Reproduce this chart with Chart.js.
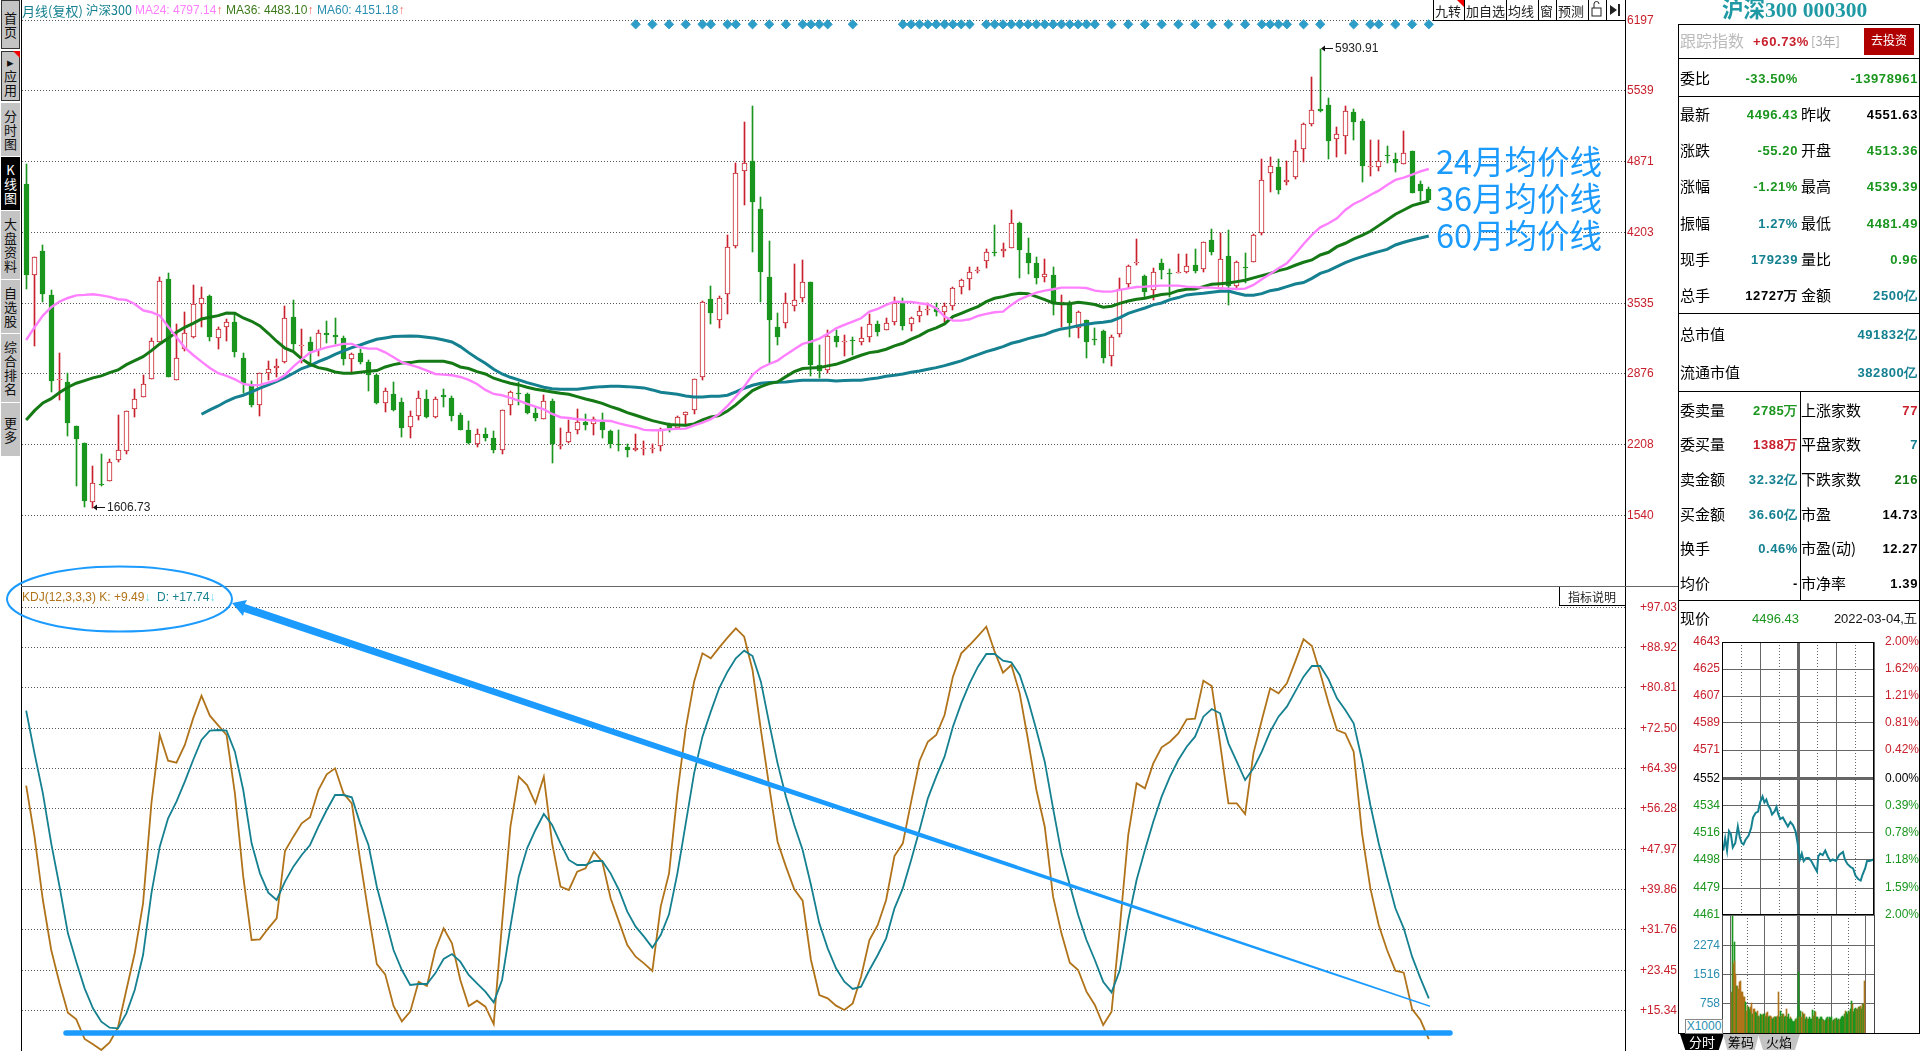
<!DOCTYPE html>
<html lang="zh">
<head>
<meta charset="utf-8">
<title>沪深300 月线</title>
<script src="https://cdn.jsdelivr.net/npm/chart.js@4/dist/chart.umd.js"></script>
<style>
html, body { margin: 0; padding: 0; background: #fff; width: 1920px; height: 1051px; overflow: hidden; }
canvas { position: absolute; }
.t { position: absolute; white-space: nowrap; line-height: 1; font-family: "Noto Sans CJK SC", sans-serif; }
.r { position: absolute; }
.nav { position: absolute; left: 1px; width: 19px; background: #c4c4c4; color: #111; text-align: center; font: 13px/14px "Noto Sans CJK SC", sans-serif; box-sizing: border-box; display: flex; flex-direction: column; align-items: center; justify-content: center; }
.tab { position: absolute; top: 1034px; height: 16px; font: 13px/16px "Noto Sans CJK SC", sans-serif; text-align: center; }
svg { position: absolute; left: 0; top: 0; }
</style>
</head>
<body>
<canvas id="kline" width="1658" height="586" style="left:22px;top:0"></canvas>
<canvas id="kdj" width="1658" height="465" style="left:22px;top:586px"></canvas>
<canvas id="price" width="241" height="297" style="left:1678px;top:630px"></canvas>
<canvas id="volume" width="241" height="118" style="left:1678px;top:915px"></canvas>
<div id="ui"></div>
<svg width="1920" height="1051">
	<ellipse cx="119.5" cy="599" rx="112.5" ry="32.5" fill="none" stroke="#1c9bff" stroke-width="2"/>
	<polygon points="232,603 247,600 245,604 1430,1005.4 1430,1007 244,612 243,616" fill="#1c9bff"/>
	<line x1="66" y1="1033" x2="1450" y2="1033" stroke="#1c9bff" stroke-width="5.5" stroke-linecap="round"/>
	<rect x="1592" y="8" width="9" height="8" fill="none" stroke="#222"/>
	<path d="M1594 8 V4 a2.5 2.5 0 0 1 5 0" fill="none" stroke="#222"/>
	<polygon points="1610,5 1617,10 1610,15" fill="#222"/>
	<rect x="1618" y="4" width="2" height="12" fill="#222"/>
</svg>
<script>
'use strict'

const opens = [4659,3800,4029,3615,2815,2793,2382,2222,1670,1835,1868,2065,2144,2539,2652,2821,3169,3765,2818,3103,3220,3527,3605,3213,3310,3361,3022,2759,2577,2881,2925,2987,3408,3135,3172,3097,3254,3235,3210,3016,3069,2984,2862,2602,2683,2605,2376,2479,2636,2470,2674,2646,2486,2345,2216,2307,2266,2153,2577,2690,2683,2501,2451,2614,2198,2229,2342,2417,2398,2423,2332,2207,2182,2160,2169,2169,2191,2401,2360,2483,2536,2846,3574,3376,3621,4079,4778,4872,4421,3781,3310,3348,3508,3583,3734,2953,2906,3226,3176,3188,3176,3216,3339,3282,3357,3542,3339,3414,3470,3489,3452,3508,3687,3762,3844,3931,4016,4025,4060,4289,4007,3913,3787,3803,3536,3527,3301,3376,3198,3273,3038,3245,3715,3916,3790,3659,3913,3825,3825,3834,3894,3856,4129,3668,3978,3702,3875,3922,4195,4759,4816,4681,4722,4985,5227,5365,5399,5079,5114,5333,5252,4818,4822,4932,4891,4847,4969,4656,4612]
const closes = [3803,3969,3627,2809,2818,2414,2260,1680,1843,1828,2040,2153,2520,2633,2774,3179,3743,2846,3019,3260,3530,3583,3220,3292,3357,3082,2784,2580,2878,2915,2943,3395,3157,3141,3091,3254,3238,3216,3016,3056,2984,2865,2599,2708,2533,2366,2473,2643,2467,2633,2652,2476,2348,2222,2304,2272,2160,2530,2699,2684,2508,2461,2614,2216,2204,2323,2417,2395,2451,2348,2216,2201,2160,2172,2175,2175,2357,2360,2464,2517,2821,3546,3448,3583,4063,4759,4853,4493,3834,3383,3223,3542,3571,3740,2959,2897,3226,3176,3182,3182,3213,3339,3270,3348,3542,3326,3395,3461,3476,3458,3508,3677,3753,3834,3850,4016,4010,4044,4289,4041,3919,3778,3809,3527,3542,3354,3452,3176,3192,3025,3216,3674,3884,3922,3646,3834,3853,3815,3831,3891,3844,4110,4022,3950,3699,3922,3869,4176,4700,4825,4606,4700,4972,5220,5358,5350,5067,5132,5346,5245,4831,4825,4878,4926,4853,4947,4577,4593,4508]
const highs = [4847,3975,4085,3662,3066,2878,2385,2225,2006,2119,2072,2486,2523,2727,2859,3207,3781,3822,3342,3455,3709,3687,3615,3310,3386,3442,3066,2802,2884,2994,3009,3511,3568,3295,3216,3282,3373,3398,3232,3066,3107,3003,2871,2740,2796,2646,2523,2715,2721,2655,2730,2664,2501,2429,2354,2360,2335,2530,2708,2793,2690,2558,2671,2636,2360,2436,2539,2492,2470,2501,2342,2342,2210,2307,2244,2210,2363,2407,2473,2517,2821,3555,3699,3605,4176,4853,5242,5390,4533,4120,3442,3630,3903,3941,3734,3144,3282,3285,3235,3223,3314,3436,3367,3398,3593,3583,3405,3514,3536,3536,3536,3687,3762,3878,3878,4044,4273,4101,4414,4301,4151,3972,3953,3878,3615,3558,3461,3376,3301,3285,3238,3771,3894,4142,3800,3866,3953,3856,4000,4000,4047,4110,4236,4198,4226,3931,4010,4185,4891,4913,4891,4872,5073,5230,5662,5930.91,5465,5195,5390,5365,5270,5073,5073,5016,4947,5158,4969,4684,4634]
const lows = [3674,3138,3552,2705,2630,2291,1821,1623,1606.73,1821,1862,2047,2122,2470,2652,2821,3169,2846,2812,3088,3213,3317,3185,3110,3185,3034,2690,2564,2479,2815,2846,2978,3097,2972,2972,3044,3166,3150,2956,2887,2965,2711,2589,2514,2523,2279,2269,2442,2457,2461,2561,2429,2345,2213,2188,2244,2131,2122,2489,2583,2498,2432,2445,2037,2169,2219,2310,2348,2301,2272,2178,2150,2094,2150,2112,2131,2150,2323,2360,2382,2498,2818,3345,3307,3439,4060,4465,4022,3549,2972,3147,3307,3467,3552,2853,2834,2878,3129,3044,3053,3147,3176,3232,3282,3332,3285,3279,3364,3427,3420,3364,3473,3627,3665,3825,3869,3982,3972,4060,3775,3812,3718,3737,3427,3314,3223,3213,3025,3147,2978,2950,3223,3680,3894,3599,3571,3762,3593,3818,3818,3822,3828,3991,3668,3524,3684,3724,3922,4179,4587,4568,4650,4709,4869,5205,5339,4894,4913,4944,5073,4681,4737,4781,4853,4775,4847,4577,4499,4493]

const ma24 = [3191,3310,3420,3499,3552,3586,3611,3615,3621,3611,3596,3574,3568,3530,3470,3452,3420,3317,3216,3119,3050,2987,2928,2878,2853,2821,2777,2765,2768,2790,2812,2862,2940,3009,3072,3097,3122,3138,3154,3154,3122,3110,3110,3075,3028,2981,2956,2934,2903,2871,2865,2859,2843,2815,2777,2721,2683,2671,2646,2621,2589,2564,2539,2495,2464,2457,2445,2439,2432,2432,2429,2407,2388,2370,2345,2341,2341,2351,2354,2357,2388,2413,2445,2495,2570,2658,2752,2862,2928,2965,2997,3053,3104,3154,3176,3204,3248,3301,3332,3364,3395,3458,3483,3521,3552,3549,3549,3536,3527,3489,3411,3373,3373,3386,3417,3436,3452,3458,3521,3574,3605,3637,3655,3668,3684,3684,3684,3680,3655,3646,3646,3662,3677,3690,3693,3699,3702,3702,3702,3693,3690,3684,3684,3677,3674,3671,3674,3709,3762,3812,3866,3913,4000,4094,4179,4251,4289,4336,4414,4471,4508,4555,4596,4650,4697,4719,4747,4778,4800]
const ma36 = [2439,2526,2599,2639,2696,2746,2784,2809,2834,2853,2884,2909,2959,2997,3034,3091,3154,3207,3263,3310,3348,3389,3405,3420,3445,3442,3398,3367,3323,3254,3179,3113,3082,3013,2962,2931,2915,2890,2878,2878,2887,2896,2903,2937,2959,2975,2978,2991,2991,2991,2991,2972,2937,2922,2893,2871,2831,2806,2784,2768,2746,2727,2715,2702,2690,2680,2658,2636,2617,2595,2564,2539,2508,2483,2457,2432,2413,2395,2392,2388,2401,2439,2467,2479,2523,2580,2649,2715,2752,2780,2796,2846,2893,2922,2928,2931,2947,2962,2988,3019,3047,3072,3082,3104,3135,3160,3198,3232,3276,3304,3342,3411,3442,3474,3505,3552,3583,3599,3618,3630,3627,3599,3571,3539,3533,3533,3546,3536,3524,3499,3508,3536,3558,3574,3583,3602,3618,3627,3655,3668,3671,3693,3715,3721,3727,3740,3753,3775,3797,3818,3844,3862,3894,3922,3944,3991,4016,4069,4101,4142,4176,4214,4267,4320,4374,4414,4455,4477,4499]
const ma60 = [null,null,null,null,null,null,null,null,null,null,null,null,null,null,null,null,null,null,null,null,null,2492,2533,2570,2614,2649,2671,2702,2737,2768,2802,2837,2878,2922,2950,2987,3019,3056,3088,3119,3144,3172,3198,3210,3223,3226,3229,3226,3216,3207,3191,3172,3129,3072,3019,2972,2915,2871,2840,2815,2790,2768,2746,2733,2727,2727,2727,2737,2746,2752,2755,2755,2752,2746,2740,2721,2699,2690,2680,2664,2655,2655,2661,2661,2671,2702,2737,2765,2784,2790,2793,2796,2806,2812,2812,2812,2812,2806,2809,2812,2812,2824,2834,2849,2859,2871,2887,2900,2915,2931,2950,2972,2994,3025,3053,3082,3104,3129,3160,3179,3204,3223,3241,3273,3295,3307,3326,3339,3351,3358,3370,3401,3442,3467,3492,3521,3539,3571,3590,3615,3624,3630,3640,3649,3652,3630,3612,3612,3627,3655,3668,3693,3718,3731,3771,3818,3844,3881,3919,3950,3975,4000,4022,4044,4085,4110,4132,4151,4170]

const signalMonths = [74,76,78,80,82,83,85,86,88,90,92,94,95,96,97,100,106,107,108,109,110,111,112,113,114,116,117,118,119,120,121,122,123,124,125,126,127,128,129,131,133,135,137,139,141,143,145,147,149,150,151,152,154,156,160,162,163,165,167,169]
const signalLevel = 6161

const kValues = [60.88,50.54,37.70,27.56,20.81,14.86,13.51,9.52,8.44,7.29,8.85,11.89,19.45,26.89,37.02,57.29,71.15,65.94,65.54,69.12,74.52,79.12,75.06,73.11,71.15,59.32,42.43,29.59,29.72,31.96,33.98,47.63,50.54,53.24,54.46,60.00,63.17,64.39,59.32,57.29,45.81,35.00,24.72,22.63,16.21,13.10,15.06,21.14,20.27,27.56,31.96,28.91,21.48,16.21,17.29,16.08,12.56,32.97,52.56,62.70,61.01,57.29,62.70,49.19,40.40,39.73,43.44,44.12,47.50,45.47,38.04,33.31,28.58,26.21,24.86,23.31,36.35,43.10,59.32,72.50,81.96,87.70,86.69,88.85,90.88,92.77,91.08,84.32,72.16,60.67,49.52,44.46,39.86,37.56,25.54,18.44,17.77,16.28,15.40,16.75,22.16,29.59,32.63,37.70,46.62,49.19,57.63,65.88,69.79,71.15,75.20,82.97,87.70,89.39,91.21,93.11,88.04,83.78,85.34,79.59,70.13,60.00,52.56,38.37,30.94,25.00,23.51,19.12,16.41,12.36,15.06,32.29,50.87,61.35,60.33,65.40,68.65,69.79,71.48,74.32,74.46,82.16,81.08,69.46,57.29,57.29,55.13,67.43,74.19,80.61,79.59,81.62,86.01,90.54,89.19,83.65,77.56,72.16,71.48,67.77,51.21,40.06,32.63,27.56,23.37,22.97,15.60,13.37,9.49]
const dValues = [76.08,67.43,59.32,49.19,40.40,30.94,25.20,19.79,15.74,13.04,11.82,11.68,14.72,19.45,26.55,39.05,48.51,54.25,57.63,61.69,66.08,70.13,72.02,72.16,72.02,67.77,60.00,49.19,43.10,39.18,37.70,41.42,44.46,46.82,48.85,52.56,55.94,58.98,58.98,58.51,53.24,48.85,40.40,33.98,27.56,23.51,20.47,20.67,20.67,22.83,25.74,26.75,25.20,22.50,20.81,19.12,16.95,21.48,32.29,42.43,48.17,51.89,55.13,52.90,49.19,45.81,44.79,44.79,45.60,45.60,43.10,39.73,35.33,32.29,30.27,28.04,30.60,34.79,43.10,53.24,63.38,70.81,75.88,80.61,83.98,86.69,88.24,87.16,81.96,73.51,65.40,58.65,52.90,47.83,40.74,32.97,27.90,23.85,21.14,19.66,20.13,23.51,26.55,29.93,36.01,40.06,45.81,51.89,58.31,62.70,66.75,72.83,77.56,81.62,85.00,87.57,87.57,86.21,85.88,83.31,78.24,72.16,65.74,56.28,47.16,40.74,34.66,29.59,25.54,21.14,18.98,23.51,33.64,41.75,47.83,53.58,58.65,62.70,66.08,68.78,70.81,74.86,76.42,75.54,69.46,65.74,62.02,64.39,67.77,71.82,74.86,76.89,79.93,82.97,85.13,85.13,82.43,78.58,76.21,73.51,66.08,56.96,49.19,42.43,36.01,31.96,26.21,21.82,17.74]

const priceTicks = [6197,5539,4871,4203,3535,2876,2208,1540]
const kdjTicks = [97.03,88.92,80.81,72.50,64.39,56.28,47.97,39.86,31.76,23.45,15.34]

const intradayMinutes = [2,5,8,11,14,17,21,25,28,31,34,37,42,46,49,53,57,60,64,67,70,73,76,79,83,86,89,92,96,100,104,108,112,116,119,123,126,129,133,137,141,146,150,152,155,159,163,167,171,175,180,185,191,194,198,203,207,211,215,219,222,226,229,233,239]
const intradayPrices = [4504,4512,4504,4517,4515,4506,4509,4520,4513,4509,4508,4511,4514,4519,4526,4529,4530,4536,4540,4536,4538,4534,4532,4528,4530,4533,4528,4525,4526,4523,4520,4523,4521,4517,4510,4498,4502,4497,4499,4499,4497,4493,4490,4500,4502,4501,4504,4500,4497,4498,4497,4501,4503,4498,4495,4493,4492,4487,4485,4484,4488,4492,4497,4497,4498]
const intradayTicks = [4643,4625,4607,4589,4571,4552,4534,4516,4498,4479,4461]
const percentTicks = ['2.00%','1.62%','1.21%','0.81%','0.42%','0.00%','0.39%','0.78%','1.18%','1.59%','2.00%']

const volumeValues = [1060,3059,1799,2364,1868,1538,1234,1234,1147,1321,1364,1060,973,1060,930,930,799,582,713,669,626,669,539,773,495,626,626,539,513,565,408,452,408,495,469,478,495,495,452,513,408,539,408,452,452,408,365,391,408,408,408,426,452,1078,408,582,452,495,408,495,408,452,626,408,495,365,408,365,365,322,278,322,365,365,408,1582,713,408,582,408,539,495,495,365,408,365,365,365,408,365,365,600,452,582,365,539,408,408,365,365,426,408,365,339,339,322,339,391,408,365,408,391,365,408,322,339,365,365,391,339,365,322,339,365,408,452,408,495,582,452,539,495,582,539,626,843,756,539,626,582,652,626,626,669,669,713,626,669,756,756,1364]
const volumeSide = 'bgbgbbgbbb' + 'bbbbbbgbbg' + 'gbgbgbbggb' + 'ggbggbggbb' + 'gbggbbgggb' + 'ggbbggbggb' + 'ggbgggbggg' + 'gggbgggbgb' + 'bgbgggbggg' + 'ggbggbggbg' + 'gggbgbgggb' + 'ggggbggbgg' + 'ggbgggggbg' + 'gggbggbggg' + 'gbgbgbggbgb'
const volumeTicks = [758,1516,2274]

const months = []
for (let y = 2008, m = 3; months.length < 169; m++) {
	if (m > 12) { m = 1; y++ }
	months.push(y + '-' + String(m).padStart(2, '0'))
}
// the chart leaves free room right of the last month
const categories = months.concat(new Array(23).fill(''))

const RED = '#c8202c'
const GREEN = '#1a961e'
const TEAL = '#148090'
const BROWN = '#b0731a'
const AXIS_FONT = { family: '"Liberation Sans", Arial, sans-serif', size: 12 }

Chart.defaults.animation = false
Chart.defaults.responsive = false
Chart.defaults.events = []
Chart.defaults.layout.autoPadding = false
Chart.defaults.plugins.legend.display = false
Chart.defaults.plugins.tooltip.enabled = false

// keeps bars on whole pixels, the original has no antialiasing
const snapBars = {
	id: 'snapBars',
	afterDatasetsUpdate(chart) {
		chart.data.datasets.forEach((ds, i) => {
			const meta = chart.getDatasetMeta(i)
			if (meta.type !== 'bar') return
			meta.data.forEach((el) => {
				if (el.skip) return
				el.x = Math.floor(el.x) + 0.5
				el.y = Math.round(el.y)
				el.base = Math.round(el.base)
				if (el.y === el.base) el.y -= 1
			})
		})
	},
}

// arrow and text at the highest high and lowest low
const extremes = {
	id: 'extremes',
	afterDatasetsDraw(chart) {
		const ctx = chart.ctx
		const xs = chart.scales.x
		const ys = chart.scales.y
		const marks = [
			[highs.indexOf(Math.max(...highs)), Math.max(...highs)],
			[lows.indexOf(Math.min(...lows)), Math.min(...lows)],
		]
		ctx.save()
		ctx.font = '12px "Liberation Sans"'
		ctx.textBaseline = 'middle'
		marks.forEach(([i, value]) => {
			const x = Math.floor(xs.getPixelForValue(i)) + 1
			const y = Math.round(ys.getPixelForValue(value)) - 0.5
			ctx.strokeStyle = ctx.fillStyle = '#111'
			ctx.beginPath()
			ctx.moveTo(x + 1, y)
			ctx.lineTo(x + 12, y)
			ctx.stroke()
			ctx.beginPath()
			ctx.moveTo(x, y)
			ctx.lineTo(x + 4, y - 3)
			ctx.lineTo(x + 4, y + 3)
			ctx.fill()
			ctx.fillStyle = '#222'
			ctx.fillText(value.toFixed(2), x + 14, y)
		})
		ctx.restore()
	},
}

// fixed axis width and no room reserved for half a label above and below
const fixedWidth = (w) => (scale) => {
	scale.width = w
	scale.paddingTop = 0
	scale.paddingBottom = 0
}
const fixedTicks = (values) => (scale) => { scale.ticks = values.map((v) => ({ value: v })) }
const candleColor = (ctx) => (closes[ctx.dataIndex] >= opens[ctx.dataIndex] ? RED : GREEN)
const bodyFill = (ctx) => (closes[ctx.dataIndex] >= opens[ctx.dataIndex] ? '#fff' : GREEN)
const maLine = (label, data, color, width, order) => ({
	type: 'line', label, data, borderColor: color, borderWidth: width,
	pointRadius: 0, tension: 0, order, spanGaps: false,
})
const dottedGrid = {
	grid: { color: '#555', drawTicks: false, lineWidth: 1 },
	border: { display: false, dash: [1, 2] },
}
const tickValue = (ctx) => (ctx.tick ? ctx.tick.value : null)
const sideColor = (ctx) => {
	const v = tickValue(ctx)
	return v > 4552 ? RED : v === 4552 ? '#000' : GREEN
}

new Chart(document.getElementById('kline'), {
	type: 'bar',
	data: {
		labels: categories,
		datasets: [
			maLine('MA60', ma60, TEAL, 3, 3),
			maLine('MA36', ma36, '#157a15', 3, 2),
			maLine('MA24', ma24, '#ff80ff', 2.4, 1),
			{
				type: 'line', label: 'signal', showLine: false, order: 1,
				data: months.map((_, i) => (signalMonths.includes(i + 1) ? signalLevel : null)),
				pointStyle: 'rectRot', pointRadius: 4.6, backgroundColor: '#2e9ec8', borderColor: '#2e9ec8',
			},
			{
				label: 'body', data: months.map((_, i) => [opens[i], closes[i]]), order: 5, grouped: false,
				barThickness: 5, borderWidth: 1, borderSkipped: false,
				borderColor: candleColor, backgroundColor: bodyFill,
			},
			{
				label: 'wick', data: months.map((_, i) => [lows[i], highs[i]]), order: 6, grouped: false,
				barThickness: 1, backgroundColor: candleColor,
			},
		],
	},
	options: {
		layout: { padding: 0 },
		scales: {
			x: { display: false, offset: true },
			y: {
				position: 'right', min: 876, max: 6390,
				afterFit: fixedWidth(55), afterBuildTicks: fixedTicks(priceTicks),
				...dottedGrid,
				ticks: { font: AXIS_FONT, color: RED, padding: 2, autoSkip: false, callback: (v) => String(v) },
			},
		},
	},
	plugins: [snapBars, extremes],
})

new Chart(document.getElementById('kdj'), {
	type: 'line',
	data: {
		labels: categories,
		datasets: [
			maLine('D', dValues, TEAL, 1.8, 1),
			maLine('K', kValues, BROWN, 1.8, 2),
		],
	},
	options: {
		scales: {
			x: { display: false, offset: true },
			y: {
				position: 'right', min: 7.09, max: 101.35,
				afterFit: fixedWidth(55), afterBuildTicks: fixedTicks(kdjTicks),
				...dottedGrid,
				ticks: {
					font: AXIS_FONT, color: RED, padding: 15, autoSkip: false,
					callback: (v) => '+' + v.toFixed(2),
				},
			},
		},
	},
})

const minuteAxis = () => ({
	type: 'linear', min: 0, max: 240,
	ticks: { display: false, stepSize: 30, autoSkip: false },
	grid: {
		drawTicks: false, color: '#666', offset: false,
		lineWidth: (ctx) => (tickValue(ctx) === 120 ? 3 : 1),
	},
	border: { display: false, dash: (ctx) => (tickValue(ctx) % 60 === 30 ? [1, 2] : []) },
})

new Chart(document.getElementById('price'), {
	type: 'line',
	data: {
		datasets: [{
			label: '分时',
			data: intradayMinutes.map((m, i) => ({ x: m, y: intradayPrices[i] })),
			borderColor: TEAL, borderWidth: 2, pointRadius: 0, tension: 0,
		}],
	},
	options: {
		layout: { padding: { top: 12, bottom: 12 } },
		scales: {
			x: minuteAxis(),
			y: {
				position: 'left', min: 4461, max: 4643,
				afterFit: fixedWidth(44), afterBuildTicks: fixedTicks(intradayTicks),
				grid: {
					drawTicks: false, color: '#666',
					lineWidth: (ctx) => (tickValue(ctx) === 4552 ? 3 : 1),
				},
				border: { display: false },
				ticks: { font: AXIS_FONT, padding: 2, autoSkip: false, color: sideColor, callback: (v) => String(v) },
			},
			y2: {
				position: 'right', min: 4461, max: 4643,
				afterFit: fixedWidth(45), afterBuildTicks: fixedTicks(intradayTicks),
				grid: { display: false },
				border: { display: false },
				ticks: {
					font: AXIS_FONT, padding: 3, autoSkip: false, color: sideColor,
					callback: (v, i) => percentTicks[i],
				},
			},
		},
	},
})

new Chart(document.getElementById('volume'), {
	type: 'bar',
	data: {
		datasets: [{
			label: '成交量',
			data: volumeValues.map((v, i) => ({ x: (i + 1) * 240 / 152, y: v })),
			barThickness: 1, grouped: false,
			backgroundColor: (ctx) => (volumeSide[ctx.dataIndex] === 'g' ? GREEN : BROWN),
		}],
	},
	options: {
		layout: { padding: { right: 45 } },
		scales: {
			x: minuteAxis(),
			y: {
				position: 'left', min: 0, max: 3074,
				afterFit: fixedWidth(44), afterBuildTicks: fixedTicks(volumeTicks),
				grid: { drawTicks: false, color: '#666' },
				border: { display: false },
				ticks: { font: AXIS_FONT, color: '#2a8fb0', padding: 2, autoSkip: false, callback: (v) => String(v) },
			},
		},
	},
	plugins: [snapBars],
})

// the quote panel and toolbars around the charts
const ui = document.getElementById('ui')
const VALUE_FONT = '"Liberation Sans", Arial, sans-serif'
const text = (x, y, str, o = {}) => {
	const el = document.createElement('div')
	el.className = 't'
	el.innerHTML = str
	el.style.top = y + 'px'
	el.style.transform = 'translateY(-50%)'
	if (o.right) el.style.right = (1920 - x) + 'px'
	else el.style.left = x + 'px'
	el.style.color = o.color || '#000'
	el.style.fontSize = (o.size || 15) + 'px'
	if (o.weight) el.style.fontWeight = o.weight
	if (o.font) el.style.fontFamily = o.font
	if (o.spacing) el.style.letterSpacing = o.spacing
	ui.appendChild(el)
}
const rule = (x, y, w, h, color = '#000') => {
	const el = document.createElement('div')
	el.className = 'r'
	el.style.cssText = `left:${x}px;top:${y}px;width:${w}px;height:${h}px;background:${color}`
	ui.appendChild(el)
}
const value = (x, y, str, color) => text(x, y, str, { right: true, color, size: 13, weight: 'bold', font: VALUE_FONT, spacing: '0.6px' })

const navTabs = [
	[0, 49, '首<br>页'], [51, 50, '▸<br>应<br>用'], [103, 53, '分<br>时<br>图'], [157, 53, 'K<br>线<br>图'],
	[211, 68, '大<br>盘<br>资<br>料'], [280, 53, '自<br>选<br>股'], [334, 68, '综<br>合<br>排<br>名'], [403, 53, '更<br>多'],
]
navTabs.forEach(([top, h, label], i) => {
	const el = document.createElement('div')
	el.className = 'nav'
	el.style.top = top + 'px'
	el.style.height = h + 'px'
	el.innerHTML = label
	if (i === 3) { el.style.background = '#000'; el.style.color = '#fff' }
	if (i < 2) el.style.border = '1px solid #333'
	ui.appendChild(el)
})
const corner = (x, y) => {
	const el = document.createElement('div')
	el.className = 'r'
	el.style.cssText = `left:${x}px;top:${y}px;width:0;height:0;border-left:7px solid transparent;border-top:7px solid #f00000`
	ui.appendChild(el)
}
corner(13, 51)

rule(21, 0, 1, 1051)
rule(1625, 0, 1, 1051)
rule(21, 586, 1657, 1, '#666')

text(22, 10, '月线(复权)', { color: TEAL, size: 13 })
text(86, 10, '沪深300', { color: TEAL, size: 12.5 })
text(135, 10, 'MA24: 4797.14<span style="color:#f66">↑</span>', { color: '#ff80ff', size: 12, font: VALUE_FONT })
text(226, 10, 'MA36: 4483.10<span style="color:#f66">↑</span>', { color: '#3c7a1c', size: 12, font: VALUE_FONT })
text(317, 10, 'MA60: 4151.18<span style="color:#f66">↑</span>', { color: '#2a8fb0', size: 12, font: VALUE_FONT })
text(22, 597, 'KDJ(12,3,3,3) K: +9.49<span style="color:#6de">↓</span>', { color: BROWN, size: 12, font: VALUE_FONT })
text(157, 597, 'D: +17.74<span style="color:#6de">↓</span>', { color: TEAL, size: 12, font: VALUE_FONT })

const toolButtons = [[1433, 1464, '九转'], [1464, 1506, '加自选'], [1506, 1538, '均线'], [1538, 1556, '窗'], [1556, 1588, '预测'], [1588, 1606, ''], [1606, 1625, '']]
toolButtons.forEach(([a, b, label]) => {
	rule(a, 0, 1, 20)
	if (label) text(a + 2, 10, label, { size: 13, color: '#222' })
})
rule(1433, 20, 192, 1)
corner(1457, 0)
rule(1559, 587, 1, 18)
rule(1559, 605, 66, 1)
text(1568, 597, '指标说明', { size: 12, color: '#222' })

;['24月均价线', '36月均价线', '60月均价线'].forEach((s, i) => text(1436, [160, 197, 234][i], s, { color: '#1c9bff', size: 32.5 }))

// quote panel
text(1722, 11, '沪深300 000300', { color: '#1f9aa5', size: 21.5, weight: 'bold', font: '"Liberation Serif", "Noto Sans CJK SC", serif' })
rule(1678, 24, 242, 1)
rule(1678, 24, 1, 1009)
rule(1919, 24, 1, 1009)
rule(1678, 58, 242, 1)
rule(1678, 96, 242, 1)
rule(1678, 313, 242, 1)
rule(1678, 391, 242, 1)
rule(1678, 600, 242, 1)
rule(1800, 391, 1, 209)
rule(1678, 1033, 242, 1)

text(1680, 40, '跟踪指数', { color: '#bbb', size: 16 })
value(1809, 41, '+60.73%', RED)
text(1811, 40, '[3年]', { color: '#aaa', size: 13 })
rule(1864, 28, 50, 27, '#b00000')
text(1871, 40, '去投资', { color: '#fff', size: 12 })

const quoteRows = [
	[78, '委比', '-33.50%', GREEN, '', '-13978961', GREEN],
	[114, '最新', '4496.43', GREEN, '昨收', '4551.63', '#000'],
	[150, '涨跌', '-55.20', GREEN, '开盘', '4513.36', GREEN],
	[186, '涨幅', '-1.21%', GREEN, '最高', '4539.39', GREEN],
	[223, '振幅', '1.27%', TEAL, '最低', '4481.49', GREEN],
	[259, '现手', '179239', TEAL, '量比', '0.96', GREEN],
	[295, '总手', '12727万', '#000', '金额', '2500亿', TEAL],
	[334, '总市值', '', '', '', '491832亿', TEAL],
	[372, '流通市值', '', '', '', '382800亿', TEAL],
	[410, '委卖量', '2785万', GREEN, '上涨家数', '77', RED],
	[444, '委买量', '1388万', RED, '平盘家数', '7', TEAL],
	[479, '卖金额', '32.32亿', TEAL, '下跌家数', '216', '#157a15'],
	[514, '买金额', '36.60亿', TEAL, '市盈', '14.73', '#000'],
	[548, '换手', '0.46%', TEAL, '市盈(动)', '12.27', '#000'],
	[583, '均价', '-', '#000', '市净率', '1.39', '#000'],
]
quoteRows.forEach(([y, a, av, ac, b, bv, bc]) => {
	text(1680, y - 1, a, { size: 15 })
	if (av) value(1798, y, av, ac)
	if (b) text(1801, y - 1, b, { size: 15 })
	value(1918, y, bv, bc)
})
text(1680, 617, '现价', { size: 15 })
text(1799, 618, '4496.43', { right: true, color: GREEN, size: 13, font: VALUE_FONT })
text(1917, 618, '2022-03-04,五', { right: true, color: '#111', size: 13, font: VALUE_FONT })

// frame of the intraday price box
const box = document.createElement('div')
box.className = 'r'
box.style.cssText = 'left:1722px;top:642px;width:152px;height:273px;border:1px solid #000;box-sizing:border-box'
ui.appendChild(box)
rule(1722, 915, 1, 118, '#444')
rule(1874, 915, 1, 118, '#444')
const x1000 = document.createElement('div')
x1000.className = 't'
x1000.style.cssText = 'left:1685px;top:1019px;width:36px;height:13px;border:1px solid #888;color:#2a8fb0;font:12px/13px "Liberation Sans";text-align:center;background:#fff'
x1000.textContent = 'X1000'
ui.appendChild(x1000)

;[[1680, 44, '分时', '#000', '#fff'], [1723, 36, '筹码', '#c4c4c4', '#000'], [1758, 42, '火焰', '#c4c4c4', '#000']].forEach(([x, w, label, bg, fg]) => {
	const el = document.createElement('div')
	el.className = 'tab'
	el.style.cssText += `left:${x}px;width:${w}px;background:${bg};color:${fg};clip-path:polygon(0 0,100% 0,88% 100%,12% 100%)`
	el.textContent = label
	ui.appendChild(el)
})
</script>
</body>
</html>
